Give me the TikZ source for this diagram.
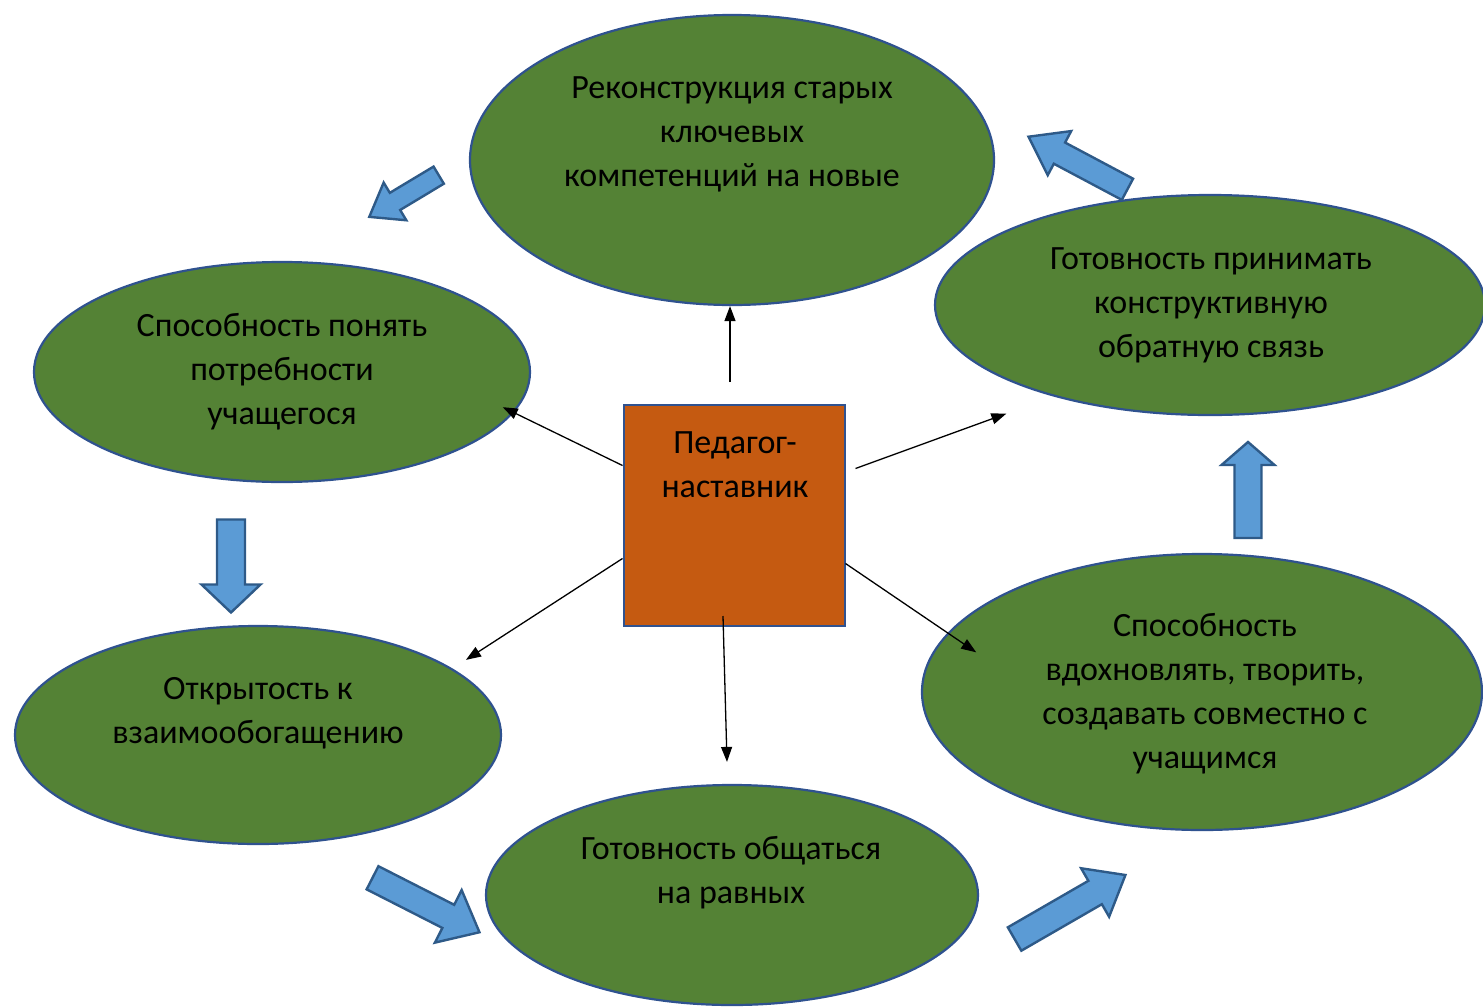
\documentclass[tikz,border=0pt]{standalone}
\usepackage{fontspec}
\setmainfont{Carlito}
\usetikzlibrary{arrows.meta,shapes.geometric}

\definecolor{leafgreen}{HTML}{548235}
\definecolor{rimblue}{HTML}{2F528F}
\definecolor{rust}{HTML}{C55A11}
\definecolor{skyblue}{HTML}{5B9BD5}
\definecolor{arrowrim}{HTML}{2E5A88}

\tikzset{
  bubble/.style={ellipse, draw=rimblue, line width=2.2pt, fill=leafgreen, inner sep=0pt},
  caption/.style={draw=none, align=center, inner sep=0pt, font=\fontsize{34}{44}\selectfont},
  link/.style={-{Triangle[length=15pt,width=11pt]}, line width=1.3pt},
  fatarrow/.style={draw=arrowrim, fill=skyblue, line width=2.4pt, line join=miter},
}

% centre, angle, length, shaft width, head width, head length
\newcommand{\blockarrow}[6]{%
  \draw[fatarrow, shift={(#1)}, rotate=#2]
    (-#3/2, -#4/2) -- (#3/2-#6, -#4/2) -- (#3/2-#6, -#5/2) -- (#3/2, 0)
    -- (#3/2-#6, #5/2) -- (#3/2-#6, #4/2) -- (-#3/2, #4/2) -- cycle;}

\begin{document}
\begin{tikzpicture}[x=1pt, y=-1pt]
  \useasboundingbox (0,0) rectangle (1483,1007);
  \clip (0,0) rectangle (1483,1007);

  % ellipses
  \node[bubble, minimum width=524pt, minimum height=290pt] (e1) at (732,160) {};
  \node[bubble, minimum width=550pt, minimum height=220pt] (e2) at (1210,305) {};
  \node[bubble, minimum width=496pt, minimum height=220pt] (e3) at (282,372) {};
  \node[bubble, minimum width=486pt, minimum height=218pt] (e4) at (258,735) {};
  \node[bubble, minimum width=492pt, minimum height=220pt] (e5) at (732,895) {};
  \node[bubble, minimum width=560pt, minimum height=276pt] (e6) at (1202,692) {};

  \node[caption] (t1) at (732,134) {Реконструкция старых\\ключевых\\компетенций на новые};
  \node[caption] (t2) at (1211,305) {Готовность принимать\\конструктивную\\обратную связь};
  \node[caption] (t3) at (282,372) {Способность понять\\потребности\\учащегося};
  \node[caption] (t4) at (258,713) {Открытость к\\взаимообогащению};
  \node[caption] (t5) at (731,873) {Готовность общаться\\на равных};
  \node[caption] (t6) at (1205,694) {Способность\\вдохновлять, творить,\\создавать совместно с\\учащимся};

  % centre box
  \node[draw=rimblue, line width=2pt, fill=rust, minimum size=221pt] (ped) at (734,515.5) {};
  \node[caption] (tp) at (735,465) {Педагог-\\наставник};

  \draw[link] ([xshift=-4pt,yshift=22pt]ped.north) -- ([xshift=-2pt]e1.south);
  \draw[link] ([yshift=50pt]ped.west) -- ([xshift=-14pt,yshift=2pt]e3.-9);
  \draw[link] ([xshift=10pt,yshift=47pt]ped.east) -- ([xshift=-37pt,yshift=-20pt]e2.208);
  \draw[link] ([yshift=-43pt]ped.west) -- ([xshift=18pt,yshift=6pt]e4.20);
  \draw[link] ([xshift=-11pt,yshift=11pt]ped.south) -- ([xshift=-5pt,yshift=22pt]e5.north);
  \draw[link] ([yshift=-48pt]ped.east) -- ([xshift=39pt,yshift=-7pt]e6.170);

  % block arrows round the cycle
  \blockarrow{404,196}{211}{81}{20}{44}{30}
  \blockarrow{1078,163}{152}{112}{24}{50}{35}
  \blockarrow{231,566}{-90}{93}{28}{59}{28}
  \blockarrow{1248,490}{90}{96}{27}{53}{23}
  \blockarrow{426,905}{-27}{120}{26}{59}{35}
  \blockarrow{1070,907}{30}{128}{27}{56}{35}
\end{tikzpicture}
\end{document}
